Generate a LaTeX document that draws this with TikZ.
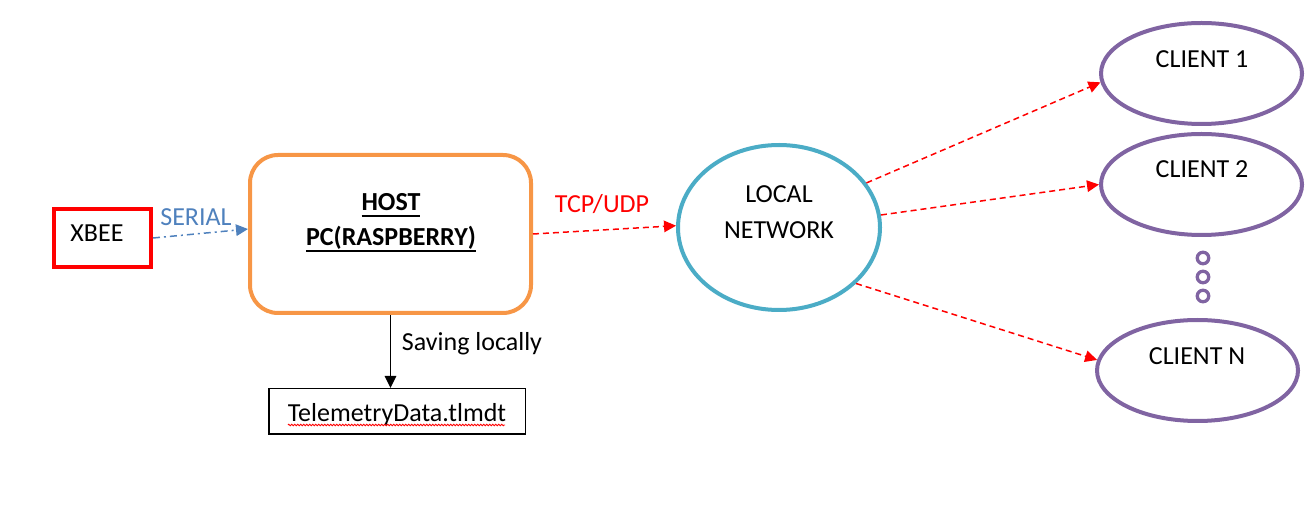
\documentclass[tikz,border=0pt]{standalone}
\usepackage{fontspec}
\setmainfont{Carlito}
\usetikzlibrary{arrows.meta,shapes.geometric,decorations.pathmorphing}
\definecolor{xred}{HTML}{FF0000}
\definecolor{horange}{HTML}{F79646}
\definecolor{nteal}{HTML}{4BACC6}
\definecolor{cpurple}{HTML}{8064A2}
\definecolor{sblue}{HTML}{4F81BD}
\newsavebox{\ulbox}
\newcommand{\thickul}[1]{\sbox{\ulbox}{#1}\usebox{\ulbox}\llap{\rule[-4.6pt]{\wd\ulbox}{1.4pt}}}
\begin{document}
\begin{tikzpicture}[x=0.75pt,y=-0.75pt,
  txt/.style={anchor=base,inner sep=0pt,font=\fontsize{19.5}{23}\selectfont},
  xbeebox/.style={draw=xred,line width=4*0.75pt,minimum width=97*0.75pt,minimum height=58*0.75pt,inner sep=0pt},
  hostbox/.style={draw=horange,line width=4*0.75pt,rounded corners=28*0.75pt,minimum width=281*0.75pt,minimum height=158*0.75pt,inner sep=0pt},
  netell/.style={ellipse,draw=nteal,line width=4*0.75pt,minimum width=202*0.75pt,minimum height=165*0.75pt,inner sep=0pt},
  clientell/.style={ellipse,draw=cpurple,line width=4*0.75pt,minimum width=201*0.75pt,minimum height=101*0.75pt,inner sep=0pt},
  filebox/.style={draw=black,line width=1.5*0.75pt,minimum width=256.5*0.75pt,minimum height=45.5*0.75pt,inner sep=0pt},
  dotring/.style={circle,draw=cpurple,line width=3.3*0.75pt,minimum size=11.5*0.75pt,inner sep=0pt},
  tip/.style={-{Triangle[length=12*0.75pt,width=11.5*0.75pt]}},
  serialarrow/.style={tip,draw=sblue,line width=1.5*0.75pt,dash pattern=on 7*0.75pt off 4*0.75pt on 2*0.75pt off 4*0.75pt},
  netarrow/.style={tip,draw=xred,line width=1.5*0.75pt,dash pattern=on 6*0.75pt off 4*0.75pt},
  savearrow/.style={tip,draw=black,line width=1.5*0.75pt},
]
\useasboundingbox (0,0) rectangle (1313,505);

% shapes
\node[xbeebox] (xbee) at (102.5,238) {};
\node[hostbox] (host) at (390.5,234) {};
\node[filebox] (tele) at (397,411.5) {};
\node[netell] (net) at (779,227.5) {};
\node[clientell] (c1) at (1201.5,73.5) {};
\node[clientell] (c2) at (1201.5,184.5) {};
\node[clientell] (cN) at (1197.5,370.5) {};
\node[dotring] (d1) at (1203,258) {};
\node[dotring] (d2) at (1203,277) {};
\node[dotring] (d3) at (1203,296) {};

% texts
\node[txt] (tx) at (97,242) {XBEE};
\node[txt] (th1) at (391,211) {\textbf{\thickul{HOST}}};
\node[txt] (th2) at (391,246) {\textbf{\thickul{PC(RASPBERRY)}}};
\node[txt,text=sblue] (tser) at (196,226) {SERIAL};
\node[txt,text=xred] (ttcp) at (602,213) {TCP/UDP};
\node[txt] (tsave) at (472,351) {Saving locally};
\node[txt] (ttele) at (397,422) {TelemetryData.tlmdt};
\node[txt] (tn1) at (779,203) {LOCAL};
\node[txt] (tn2) at (779,239) {NETWORK};
\node[txt] (tc1) at (1202,68) {CLIENT 1};
\node[txt] (tc2) at (1202,178) {CLIENT 2};
\node[txt] (tcN) at (1197,365) {CLIENT N};

% spell-check squiggle
\draw[xred,line width=0.6pt,decorate,decoration={zigzag,segment length=3*0.75pt,amplitude=0.8*0.75pt}]
  (288,425) -- (505,425);

% connectors
\draw[serialarrow] (xbee.east) -- (host.178);
\draw[netarrow] (host.east) -- (net.179);
\draw[netarrow] (net.27) -- (c1.185);
\draw[netarrow] (net.7) -- (c2.west);
\draw[netarrow] (net.-36) -- (cN.174);
\draw[savearrow] (host.south) -- (host.south |- tele.north);
\end{tikzpicture}
\end{document}
